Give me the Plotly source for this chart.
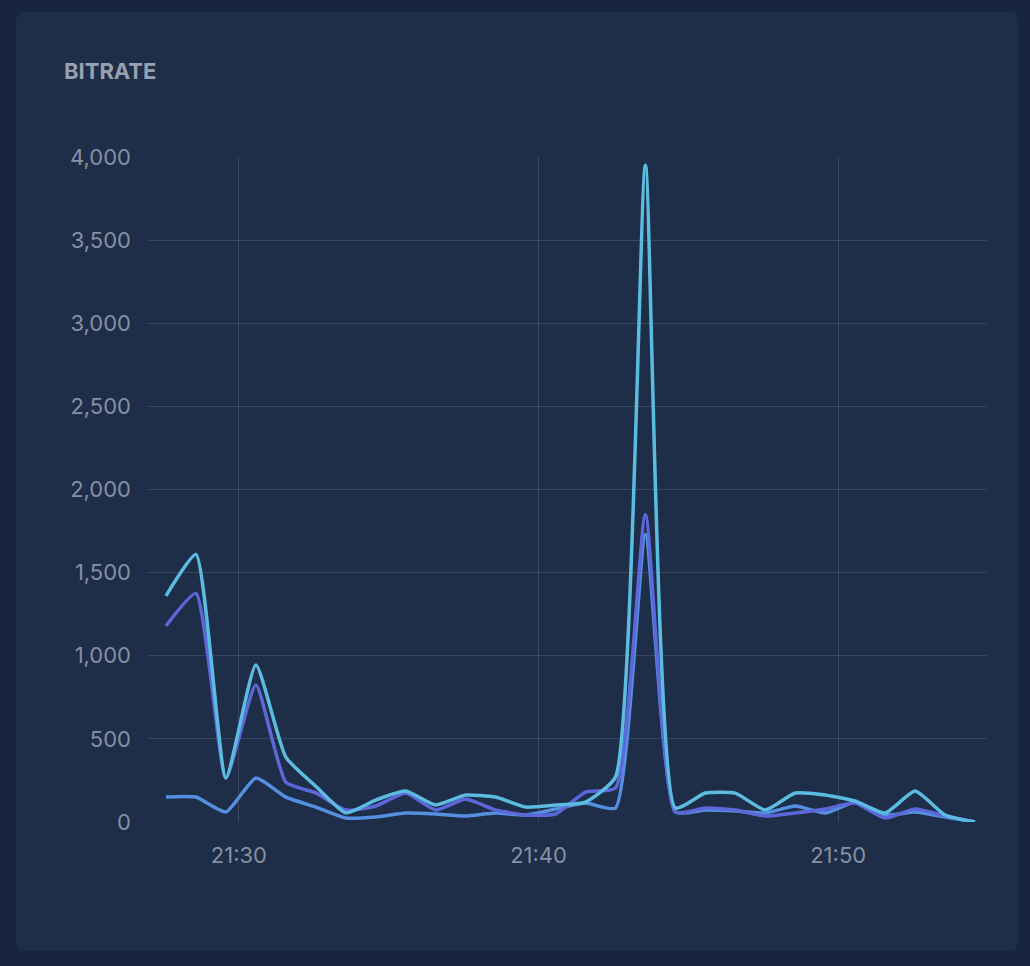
import datetime as dt
import plotly.graph_objects as go

# one sample per minute, starting 21:27:34
start = dt.datetime(2024, 1, 1, 21, 27, 34)
times = [start + dt.timedelta(minutes=k) for k in range(28)]

bitrate_top = [1360, 1610, 265, 945, 390, 215, 55, 132, 186, 102, 162, 150, 90, 102,
               120, 270, 3950, 84, 174, 174, 72, 174, 162, 126, 54, 186, 42, 0]
bitrate_mid = [1180, 1375, 265, 824, 240, 175, 72, 96, 174, 72, 138, 72, 42, 48,
               180, 204, 1850, 60, 84, 72, 36, 54, 78, 114, 24, 78, 36, 0]
bitrate_low = [150, 150, 60, 265, 150, 90, 24, 30, 54, 48, 36, 54, 42, 78,
               114, 84, 1730, 60, 72, 66, 54, 96, 54, 120, 42, 60, 30, 0]

y_ticks = [0, 500, 1000, 1500, 2000, 2500, 3000, 3500, 4000]
x_ticks = [dt.datetime(2024, 1, 1, 21, m) for m in (30, 40, 50)]

PAGE_BG = "#172540"
CARD_BG = "#1e2d48"
GRID = "rgba(255,255,255,0.12)"
LABEL = "#8590a3"
FONT = "Inter, Roboto, sans-serif"

W, H = 1030, 966
L, R, T, B = 148, 987, 157, 822   # plot area in pixels


def px_x(p):
    return (p - L) / (R - L)


def px_y(p):
    return (B - p) / (B - T)


def rounded_rect(x0, y0, x1, y1, r):
    # path in paper coords built from pixel corners
    pts = [
        f"M {px_x(x0 + r)},{px_y(y0)}",
        f"L {px_x(x1 - r)},{px_y(y0)}",
        f"Q {px_x(x1)},{px_y(y0)} {px_x(x1)},{px_y(y0 + r)}",
        f"L {px_x(x1)},{px_y(y1 - r)}",
        f"Q {px_x(x1)},{px_y(y1)} {px_x(x1 - r)},{px_y(y1)}",
        f"L {px_x(x0 + r)},{px_y(y1)}",
        f"Q {px_x(x0)},{px_y(y1)} {px_x(x0)},{px_y(y1 - r)}",
        f"L {px_x(x0)},{px_y(y0 + r)}",
        f"Q {px_x(x0)},{px_y(y0)} {px_x(x0 + r)},{px_y(y0)}",
        "Z",
    ]
    return " ".join(pts)


fig = go.Figure()

series = [
    ("low", bitrate_low, "#5590e0"),
    ("mid", bitrate_mid, "#5c68d9"),
    ("top", bitrate_top, "#5bbce0"),
]
for name, vals, color in series:
    fig.add_trace(go.Scatter(
        x=times, y=vals, name=name, mode="lines",
        line=dict(color=color, width=3.5, shape="spline", smoothing=0.5),
        hoverinfo="skip",
    ))

fig.add_shape(type="path", xref="paper", yref="paper",
              path=rounded_rect(16, 12, 1018, 951, 9),
              fillcolor=CARD_BG, line=dict(width=0), layer="below")

fig.add_annotation(text="<b>BITRATE</b>", xref="paper", yref="paper",
                   x=px_x(62), y=px_y(71), xanchor="left", yanchor="middle",
                   showarrow=False, font=dict(family=FONT, size=22, color="#97a0b0"))

fig.update_layout(
    width=W, height=H,
    margin=dict(l=L, r=W - R, t=T, b=H - B),
    paper_bgcolor=PAGE_BG,
    plot_bgcolor="rgba(0,0,0,0)",
    showlegend=False,
    font=dict(family=FONT, size=22, color=LABEL),
)
fig.update_xaxes(
    range=[dt.datetime(2024, 1, 1, 21, 26, 58), dt.datetime(2024, 1, 1, 21, 54, 58)],
    tickvals=x_ticks, tickformat="%H:%M",
    showgrid=True, gridcolor=GRID, gridwidth=1,
    zeroline=False, showline=False, ticks="", ticklabelstandoff=18,
)
fig.update_yaxes(
    range=[0, 4000], tickvals=y_ticks, tickformat=",d",
    showgrid=True, gridcolor=GRID, gridwidth=1,
    zeroline=False, showline=False, ticks="", ticklabelstandoff=16,
)

fig.write_html(
    "out.html",
    config={"displayModeBar": False},
    post_script=f"document.body.style.margin='0';document.body.style.background='{PAGE_BG}';",
)
